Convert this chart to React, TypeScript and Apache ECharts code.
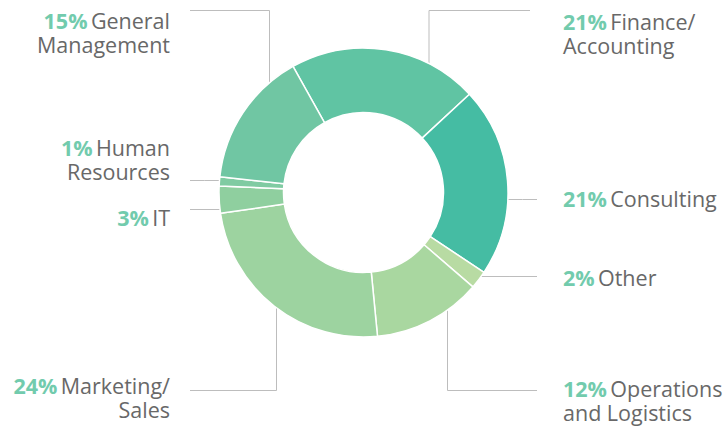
import React, { useEffect, useRef } from "react";
import * as echarts from "echarts";

const categories = [
  "Finance/\nAccounting",
  "Consulting",
  "Other",
  "Operations\nand Logistics",
  "Marketing/\nSales",
  "IT",
  "Human\nResources",
  "General\nManagement",
];
const shares = [21, 21, 2, 12, 24, 3, 1, 15];
const sliceColors = [
  "#60c4a3",
  "#45bca3",
  "#b8dba3",
  "#a9d7a0",
  "#9dd3a0",
  "#8fcf9f",
  "#80cba2",
  "#70c6a3",
];

const CX = 363.5;
const CY = 192.5;
const R_OUT = 144.5;
const R_IN = 80;
const FONT = "'Open Sans'";
const FS = 21.5;

type LabelCfg = {
  tx: number;
  ty: number;
  align: "left" | "right";
  line:
    | { kind: "h"; y: number; x2: number; side: 1 | -1 }
    | { kind: "v"; x: number; yEnd: number; x2: number; side: 1 | -1 };
};

const labelCfgs: LabelCfg[] = [
  { tx: 563, ty: 9, align: "left", line: { kind: "v", x: 429, yEnd: 10.5, x2: 530, side: -1 } },
  { tx: 563, ty: 186, align: "left", line: { kind: "h", y: 199.5, x2: 537, side: 1 } },
  { tx: 563, ty: 265, align: "left", line: { kind: "h", y: 276.5, x2: 537, side: 1 } },
  { tx: 563, ty: 376, align: "left", line: { kind: "v", x: 447.5, yEnd: 390.5, x2: 537, side: 1 } },
  { tx: 170, ty: 373, align: "right", line: { kind: "v", x: 276.5, yEnd: 390.5, x2: 190, side: 1 } },
  { tx: 170, ty: 205, align: "right", line: { kind: "h", y: 209.5, x2: 190, side: -1 } },
  { tx: 170, ty: 135, align: "right", line: { kind: "h", y: 180.5, x2: 190, side: -1 } },
  { tx: 170, ty: 8, align: "right", line: { kind: "v", x: 269.5, yEnd: 10.5, x2: 190, side: -1 } },
];

function linePoints(c: LabelCfg): number[][] {
  const l = c.line;
  if (l.kind === "h") {
    const dy = l.y - CY;
    const x0 = CX + l.side * Math.sqrt(R_OUT * R_OUT - dy * dy);
    return [
      [x0, l.y],
      [(x0 + l.x2) / 2, l.y],
      [l.x2, l.y],
    ];
  }
  const dx = l.x - CX;
  const y0 = CY + l.side * Math.sqrt(R_OUT * R_OUT - dx * dx);
  return [
    [l.x, y0],
    [l.x, l.yEnd],
    [l.x2, l.yEnd],
  ];
}

export default function App() {
  const ref = useRef<HTMLDivElement>(null);
  useEffect(() => {
    document.body.style.margin = "0";
    const chart = echarts.init(ref.current!, undefined, { renderer: "svg" });
    const data = categories.map((name, i) => ({
      name,
      value: shares[i],
      itemStyle: { color: sliceColors[i] },
    }));
    chart.setOption({
      animation: false,
      backgroundColor: "#ffffff",
      series: [
        {
          type: "pie",
          center: [CX, CY],
          radius: [R_IN, R_OUT],
          startAngle: 119.2,
          clockwise: true,
          avoidLabelOverlap: false,
          itemStyle: { borderColor: "#ffffff", borderWidth: 1.5 },
          emphasis: { disabled: true },
          data,
          label: {
            show: true,
            position: "outer",
            formatter: (p: any) => {
              const lines = String(p.name).split("\n");
              const first = `{p|${shares[p.dataIndex]}%} {n|${lines[0]}}`;
              return lines.length > 1 ? `${first}\n{n|${lines[1]}}` : first;
            },
            rich: {
              p: {
                fontFamily: FONT,
                fontWeight: "bold",
                fontSize: FS,
                color: "#72cbad",
                lineHeight: 24,
              },
              n: {
                fontFamily: FONT,
                fontSize: FS,
                color: "#686868",
                lineHeight: 24,
              },
            },
          },
          labelLine: {
            show: true,
            lineStyle: { color: "#bdbdbd", width: 1 },
          },
          labelLayout: (params: any) => {
            const c = labelCfgs[params.dataIndex];
            return {
              x: c.tx,
              y: c.ty,
              align: c.align,
              verticalAlign: "top",
              labelLinePoints: linePoints(c),
            };
          },
        },
      ],
    });
    return () => chart.dispose();
  }, []);
  return (
    <div
      ref={ref}
      style={{ position: "absolute", left: 0, top: 0, width: 727, height: 428 }}
    />
  );
}
